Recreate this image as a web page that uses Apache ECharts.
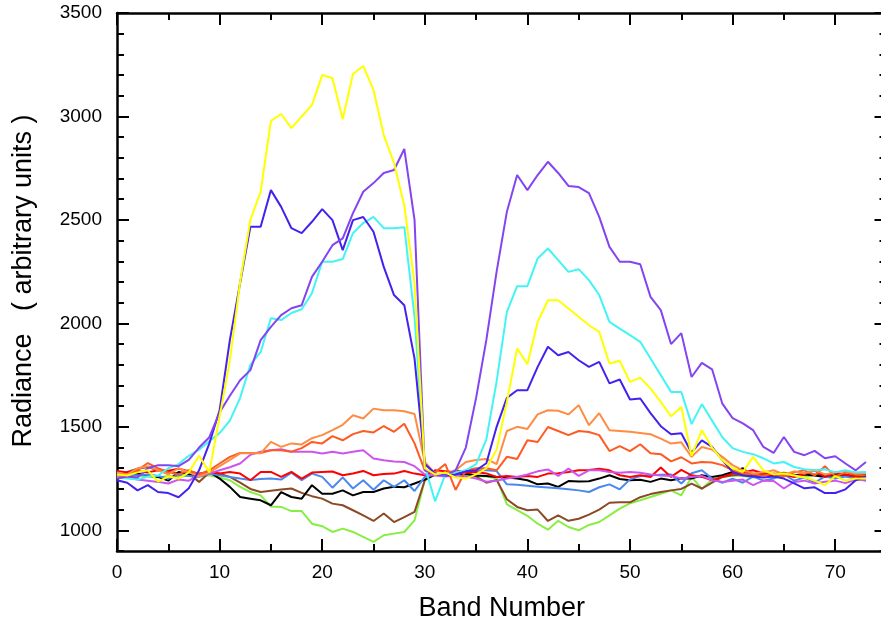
<!DOCTYPE html>
<html>
<head>
<meta charset="utf-8">
<script src="https://cdn.jsdelivr.net/npm/echarts@6/dist/echarts.min.js"></script>
<style>
  html, body { margin: 0; padding: 0; background: #fff; }
  #chart { width: 881px; height: 626px; }
</style>
</head>
<body>
<div id="chart"></div>
<script>
// band index 0..73
const bands = Array.from({length: 74}, (_, i) => i);

const yellow = [1270,1265,1280,1290,1235,1260,1250,1280,1360,1280,1550,1820,2200,2500,2636,2978,3012,2944,3000,3055,
  3200,3185,2987,3205,3244,3128,2910,2775,2570,2195,1300,1270,1280,1255,1250,1270,1300,1390,1620,1879,
  1803,2007,2112,2112,2072,2032,1991,1959,1806,1819,1717,1738,1685,1621,1551,1596,1360,1484,1400,1339,
  1300,1282,1355,1290,1270,1275,1265,1255,1240,1218,1262,1240,1250,1250];
const darkBlue = [1242,1230,1193,1218,1185,1180,1160,1203,1290,1420,1580,1919,2195,2467,2467,2644,2563,2460,2436,2491,
  2552,2499,2354,2499,2514,2443,2273,2137,2088,1830,1320,1275,1265,1270,1285,1290,1324,1500,1640,1677,
  1677,1790,1887,1846,1862,1822,1790,1814,1710,1729,1632,1637,1566,1503,1464,1469,1375,1435,1403,1339,
  1282,1265,1260,1255,1260,1250,1227,1203,1208,1180,1180,1198,1242,1260];
const purple = [1250,1260,1255,1300,1315,1315,1310,1340,1400,1450,1570,1650,1725,1774,1919,1983,2040,2073,2088,2225,
  2298,2378,2411,2533,2636,2678,2727,2741,2843,2500,1290,1270,1265,1290,1400,1640,1920,2250,2540,2717,
  2644,2717,2781,2727,2664,2659,2630,2515,2370,2298,2298,2286,2128,2064,1900,1953,1741,1809,1778,1612,
  1542,1517,1484,1403,1374,1451,1379,1363,1384,1348,1358,1323,1290,1330];
const cyan = [1255,1250,1245,1260,1265,1300,1320,1360,1390,1430,1470,1530,1640,1800,1862,2025,2016,2050,2068,2146,
  2298,2298,2311,2436,2485,2515,2460,2460,2465,2032,1310,1140,1270,1280,1290,1320,1440,1720,2056,2180,
  2180,2314,2362,2306,2249,2262,2209,2137,2007,1975,1943,1911,1830,1750,1669,1669,1513,1610,1530,1450,
  1397,1379,1368,1348,1323,1330,1306,1295,1290,1295,1280,1290,1280,1280];
const lightOrange = [1280,1270,1300,1310,1290,1270,1300,1280,1260,1280,1310,1340,1372,1372,1372,1427,1403,1420,1415,1445,
  1460,1484,1510,1556,1540,1588,1580,1580,1575,1562,1330,1275,1270,1290,1330,1340,1345,1320,1480,1500,
  1490,1560,1580,1578,1560,1605,1508,1566,1484,1480,1476,1470,1464,1443,1419,1425,1355,1403,1390,1355,
  1315,1290,1275,1280,1290,1270,1285,1275,1290,1270,1280,1285,1275,1280];
const orangeRed = [1260,1270,1290,1325,1300,1280,1270,1290,1270,1290,1323,1355,1374,1374,1374,1387,1387,1380,1397,1427,
  1420,1455,1435,1465,1480,1473,1504,1476,1515,1420,1290,1280,1320,1195,1290,1300,1300,1290,1355,1345,
  1435,1427,1499,1480,1460,1480,1475,1460,1383,1407,1383,1416,1372,1368,1333,1353,1323,1330,1328,1315,
  1290,1275,1270,1265,1275,1260,1280,1290,1265,1310,1260,1280,1270,1265];
const magenta = [1266,1255,1245,1240,1234,1226,1245,1240,1266,1274,1290,1305,1323,1365,1380,1387,1392,1380,1380,1380,
  1371,1380,1371,1380,1387,1347,1339,1333,1330,1310,1270,1265,1260,1265,1260,1250,1235,1240,1250,1258,
  1270,1285,1294,1263,1298,1263,1290,1290,1282,1278,1282,1278,1270,1265,1263,1250,1258,1263,1242,1234,
  1240,1245,1218,1240,1238,1202,1234,1240,1226,1235,1240,1228,1245,1242];
const red = [1287,1280,1285,1280,1290,1288,1298,1285,1274,1282,1275,1282,1274,1242,1282,1282,1258,1282,1250,1279,
  1282,1284,1266,1275,1287,1266,1272,1274,1287,1274,1266,1290,1285,1280,1278,1282,1275,1258,1262,1258,
  1262,1258,1274,1276,1282,1290,1292,1298,1290,1266,1258,1266,1258,1303,1258,1292,1266,1258,1242,1258,
  1274,1280,1290,1275,1266,1270,1258,1272,1290,1258,1275,1268,1260,1265];
const cornflower = [1274,1270,1265,1270,1262,1250,1268,1262,1258,1274,1266,1258,1250,1243,1248,1250,1245,1278,1242,1274,
  1258,1206,1256,1202,1242,1196,1242,1210,1242,1190,1258,1270,1262,1270,1280,1290,1290,1286,1222,1220,
  1215,1210,1207,1203,1198,1193,1185,1208,1222,1198,1246,1262,1266,1268,1270,1226,1276,1290,1250,1230,
  1250,1230,1260,1240,1250,1270,1240,1255,1230,1260,1250,1260,1250,1240];
const black = [1270,1268,1275,1265,1258,1240,1282,1272,1262,1282,1250,1210,1161,1153,1145,1121,1185,1161,1153,1218,
  1177,1177,1193,1169,1185,1185,1202,1210,1208,1226,1245,1270,1265,1268,1272,1265,1262,1258,1255,1250,
  1242,1222,1226,1210,1238,1236,1237,1250,1266,1248,1242,1244,1234,1250,1242,1252,1250,1266,1258,1266,
  1282,1300,1260,1275,1265,1270,1265,1270,1265,1258,1268,1270,1250,1265];
const brown = [1266,1282,1298,1306,1290,1282,1274,1274,1234,1279,1274,1258,1230,1200,1185,1191,1197,1202,1181,1165,
  1153,1129,1121,1097,1072,1045,1081,1040,1064,1089,1242,1270,1265,1290,1280,1260,1230,1243,1150,1113,
  1097,1100,1045,1072,1046,1056,1076,1100,1133,1135,1135,1160,1175,1185,1193,1200,1226,1202,1230,1258,
  1266,1270,1268,1275,1272,1278,1265,1275,1270,1268,1272,1265,1268,1270];
const green = [1262,1258,1265,1260,1255,1262,1258,1265,1260,1266,1255,1242,1210,1185,1169,1115,1113,1093,1093,1032,
  1020,992,1008,992,968,944,976,984,992,1048,1242,1268,1262,1265,1270,1262,1260,1252,1125,1097,
  1070,1032,1003,1046,1016,1000,1026,1040,1072,1105,1130,1145,1161,1177,1193,1169,1258,1200,1245,1258,
  1265,1262,1255,1270,1260,1265,1262,1255,1268,1262,1258,1265,1260,1262];

const xLabels = [0, 10, 20, 30, 40, 50, 60, 70];
const yMajor = [1000, 1500, 2000, 2500, 3000, 3500];

const seriesDefs = [
  ['green', green, '#88ee44'],
  ['brown', brown, '#8b4a26'],
  ['black', black, '#000000'],
  ['cornflower', cornflower, '#4a88ee'],
  ['red', red, '#ff0000'],
  ['magenta', magenta, '#cc55ee'],
  ['orangeRed', orangeRed, '#ff5a22'],
  ['lightOrange', lightOrange, '#ff8c44'],
  ['cyan', cyan, '#44f4f4'],
  ['darkBlue', darkBlue, '#4422ee'],
  ['purple', purple, '#8444f0'],
  ['yellow', yellow, '#ffff00']
];

const font = 'Liberation Sans, Arial, Helvetica, sans-serif';
const chart = echarts.init(document.getElementById('chart'));

const axisLine = {show: true, lineStyle: {color: '#000', width: 2.5}};
const xCommon = {
  type: 'value', min: 0, max: 75, interval: 10,
  axisLine: axisLine,
  axisTick: {inside: true, length: 12, lineStyle: {color: '#000', width: 2}},
  minorTick: {show: true, splitNumber: 2, length: 7, lineStyle: {color: '#000', width: 2}},
  splitLine: {show: false}
};
const yMinor = {
  type: 'value', min: 900, max: 3500, interval: 100,
  axisLine: axisLine,
  axisTick: {inside: true, length: 7, lineStyle: {color: '#000', width: 2}},
  splitLine: {show: false}
};
const yMajorAxis = {
  type: 'value', min: 900, max: 3500,
  axisLine: {show: false},
  axisTick: {inside: true, length: 12, customValues: yMajor, lineStyle: {color: '#000', width: 2}},
  axisLabel: {show: false},
  splitLine: {show: false}
};

chart.setOption({
  animation: false,
  backgroundColor: '#fff',
  // the original frame runs past the right edge of the picture
  grid: {left: 117, right: -5.5, top: 13, bottom: 75, outerBoundsMode: 'none', containLabel: false},
  xAxis: [
    Object.assign({}, xCommon, {
      position: 'bottom',
      name: 'Band Number', nameLocation: 'middle', nameGap: 44,
      nameTextStyle: {fontFamily: font, fontSize: 27, color: '#000'},
      axisLabel: {
        margin: 12, fontFamily: font, fontSize: 19, color: '#000',
        formatter: v => (xLabels.indexOf(v) >= 0 ? String(v) : '')
      }
    }),
    Object.assign({}, xCommon, {position: 'top', axisLabel: {show: false}})
  ],
  yAxis: [
    Object.assign({}, yMinor, {
      position: 'left',
      axisLabel: {
        margin: 15, fontFamily: font, fontSize: 19, color: '#000',
        formatter: v => (yMajor.indexOf(v) >= 0 ? String(v) : '')
      }
    }),
    Object.assign({}, yMajorAxis, {position: 'left'}),
    Object.assign({}, yMinor, {position: 'right', axisLabel: {show: false}}),
    Object.assign({}, yMajorAxis, {position: 'right'})
  ],
  graphic: [{
    type: 'text', x: 24, y: 281, rotation: Math.PI / 2,
    style: {
      text: 'Radiance   ( arbitrary units )',
      fontFamily: font, fontSize: 27, fill: '#000',
      align: 'center', verticalAlign: 'middle'
    }
  }],
  series: seriesDefs.map(([name, vals, color]) => ({
    name: name, type: 'line', xAxisIndex: 0, yAxisIndex: 0,
    showSymbol: false, symbol: 'none',
    lineStyle: {color: color, width: 2},
    itemStyle: {color: color},
    data: bands.map(b => [b, vals[b]])
  }))
});
</script>
</body>
</html>
